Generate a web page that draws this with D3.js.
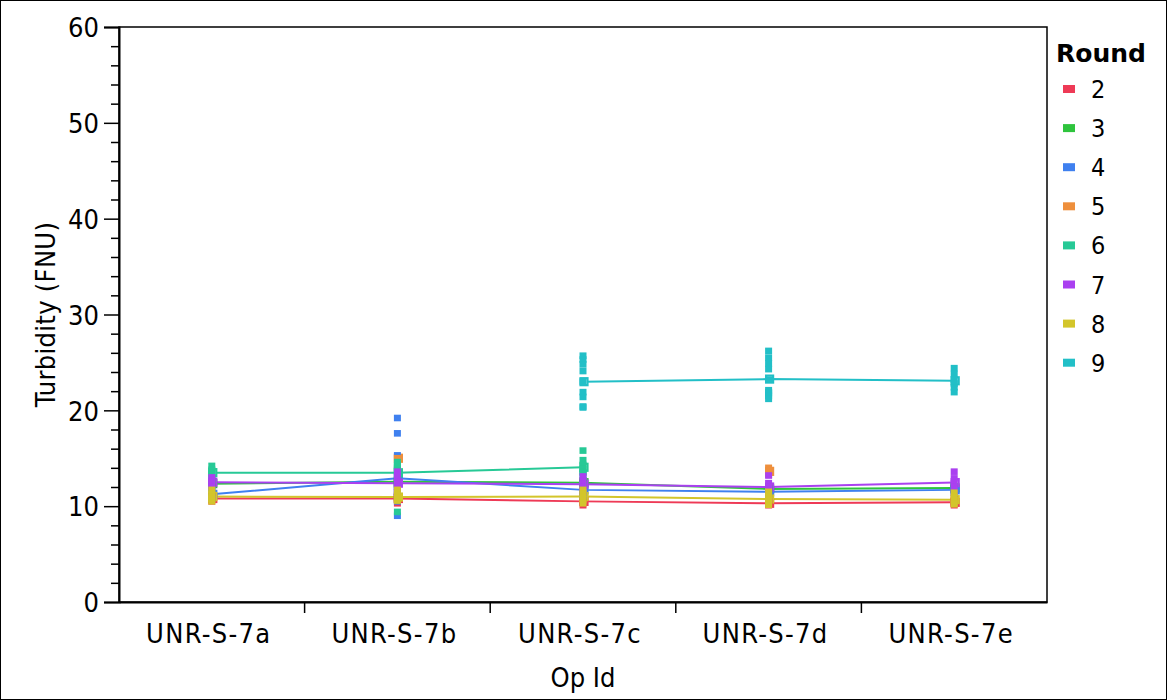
<!DOCTYPE html>
<html><head><meta charset="utf-8">
<script src="https://cdn.jsdelivr.net/npm/d3@7"></script>
<style>body{margin:0;background:#fff}svg{display:block}text{font-family:"DejaVu Sans Condensed","DejaVu Sans",sans-serif;font-stretch:condensed;fill:#000}</style>
</head><body>
<svg id="c" width="1168" height="700"></svg>
<script>
const categories = ["UNR-S-7a","UNR-S-7b","UNR-S-7c","UNR-S-7d","UNR-S-7e"];
const rounds = ["2","3","4","5","6","7","8","9"];
const colors = ["#EE3A56","#2EC43D","#3F80EF","#EE8F3C","#27C996","#AA40F0","#D3C52B","#22BFC7"];
const yTicks = [0,10,20,30,40,50,60];
// values per round, one array per category (null = no data)
const round2 = [[10.5,10.7,10.8,10.9,11.1],[10.3,10.7,10.9,11.0,11.1],[10.1,10.4,10.5,10.7,10.8],[10.1,10.2,10.3,10.4,10.5],[10.1,10.3,10.4,10.5,10.7]];
const round3 = [[12.1,12.3,12.4,12.6],[12.3,12.5,12.6,12.8],[12.2,12.4,12.5,12.7],[11.6,11.8,11.8,12.0],[11.7,11.9,11.9,12.1]];
const round4 = [[10.8,11.0,11.9],[19.2,17.6,15.3,12.0,11.8,11.5,11.2,11.0,10.5,9.0],[13.3,11.5,11.4,11.2,11.0,11.8],[11.3,11.5,11.7,11.5],[12.0,11.7,11.4,11.7]];
const round5 = [null,[15.0],null,[14.0,13.6,13.3],null];
const round6 = [[14.2,13.8,13.5,13.3,12.7],[14.6,14.3,14.0,13.9,13.8,13.7,14.2,9.4],[15.8,14.8,14.3,13.9,13.6,13.5,12.5],null,null];
const round7 = [[13.0,12.7,12.5,12.3,12.0],[13.6,13.1,12.5,12.3,12.0,11.8,11.5],[13.1,12.6,12.3,12.0,11.5],[13.2,12.4,12.0,11.6,10.8],[13.6,12.9,12.4,12.0,11.4]];
const round8 = [[11.7,11.3,11.0,10.8,10.5,10.7],[11.7,11.2,10.9,10.7,10.6,10.6],[11.7,11.3,11.0,10.7,10.3],[11.5,11.0,10.7,10.4,10.15],[11.4,10.9,10.6,10.3,10.2]];
const round9 = [null,null,[25.7,25.3,24.8,24.1,23.0,21.4,20.3,20.4,21.9],[26.2,25.5,24.9,24.3,23.2,21.9,22.1,21.8,21.5,21.2],[24.4,23.8,23.2,22.8,22.4,21.9]];
const roundData = [round2,round3,round4,round5,round6,round7,round8,round9];

const svg = d3.select("#c");
const L=119,R=1047,T=27,B=602;
const x = d3.scaleBand().domain(categories).range([L,R]).padding(0);
const y = d3.scaleLinear().domain([0,60]).range([B,T]);
const color = d3.scaleOrdinal().domain(rounds).range(colors);
const cx = c => x(c)+x.bandwidth()/2;

// outer border
svg.append("rect").attr("x",0.5).attr("y",0.5).attr("width",1166).attr("height",699).attr("fill","none").attr("stroke","#000").attr("stroke-width",1);

// plot frame
svg.append("rect").attr("x",L).attr("y",T).attr("width",R-L).attr("height",B-T).attr("fill","none").attr("stroke","#000").attr("stroke-width",1.5);

// y axis
const yAxis = d3.axisLeft(y).tickValues(yTicks).tickSize(15).tickPadding(5).tickFormat(d3.format("d"));
const ga = svg.append("g").attr("transform",`translate(${L},0)`).call(yAxis);
ga.select(".domain").attr("stroke-width",2);
ga.selectAll(".tick line").attr("stroke-width",1.5);
ga.selectAll("text").style("font-size","27px").attr("dy","0.36em");
const yMinor = d3.axisLeft(y).tickValues(d3.range(0,61,2).filter(v=>v%10!==0)).tickSize(8).tickFormat("");
const gm = svg.append("g").attr("transform",`translate(${L},0)`).call(yMinor);
gm.select(".domain").remove();
gm.selectAll(".tick line").attr("stroke-width",1.5);

// x axis
const xAxis = d3.axisBottom(x).tickSize(0).tickPadding(22);
const gx = svg.append("g").attr("transform",`translate(0,${B})`).call(xAxis);
gx.select(".domain").attr("stroke-width",2);
gx.selectAll("text").style("font-size","27px").style("letter-spacing","1.3px").attr("dx","-3").attr("dy","0.71em");
svg.append("g").selectAll("line").data(categories.slice(1)).join("line")
  .attr("x1",d=>x(d)).attr("x2",d=>x(d)).attr("y1",B).attr("y2",B+11)
  .attr("stroke","#000").attr("stroke-width",1.5);

// axis titles
svg.append("text").attr("x",(L+R)/2).attr("y",687).attr("text-anchor","middle").style("font-size","27px").text("Op Id");
svg.append("text").attr("transform",`translate(55,${(T+B)/2}) rotate(-90)`).attr("text-anchor","middle").style("font-size","27px").style("letter-spacing","0.3px").text("Turbidity (FNU)");

// series
const series = rounds.map((r,i)=>({round:r, vals:roundData[i].map((v,j)=>({cat:categories[j],vals:v,mean:v?d3.mean(v):null}))}));

const lineGen = d3.line().defined(d=>d.mean!==null).x(d=>cx(d.cat)).y(d=>y(d.mean));
const gl = svg.append("g");
series.forEach(s=>{
  gl.append("path").datum(s.vals).attr("d",lineGen).attr("fill","none").attr("stroke",color(s.round)).attr("stroke-width",2);
});
const gmean = svg.append("g");
series.forEach(s=>{
  gmean.selectAll(null).data(s.vals.filter(d=>d.mean!==null)).join("rect")
    .attr("x",d=>cx(d.cat)-2.5).attr("y",d=>y(d.mean)-3.5).attr("width",7).attr("height",7)
    .attr("fill","#fff").attr("stroke",color(s.round)).attr("stroke-width",2.2);
});
const gp = svg.append("g");
series.forEach(s=>{
  const pts = [];
  s.vals.forEach(d=>{ if(d.vals) d.vals.forEach(v=>pts.push({cat:d.cat,v})); });
  gp.selectAll(null).data(pts).join("rect")
    .attr("x",d=>cx(d.cat)-3.5).attr("y",d=>y(d.v)-3.3).attr("width",7).attr("height",6.6)
    .attr("fill",color(s.round));
});

// legend
const lg = svg.append("g");
lg.append("text").attr("x",1056).attr("y",62).style("font-size","25px").style("font-weight","bold").style("font-stretch","normal").style("font-family","'DejaVu Sans',sans-serif").text("Round");
rounds.forEach((r,i)=>{
  const yy = 89 + i*39.1;
  lg.append("rect").attr("x",1063).attr("y",yy-4).attr("width",12).attr("height",8).attr("fill",color(r));
  lg.append("text").attr("x",1091).attr("y",yy).attr("dy","0.36em").style("font-size","25px").text(r);
});
</script>
</body></html>
